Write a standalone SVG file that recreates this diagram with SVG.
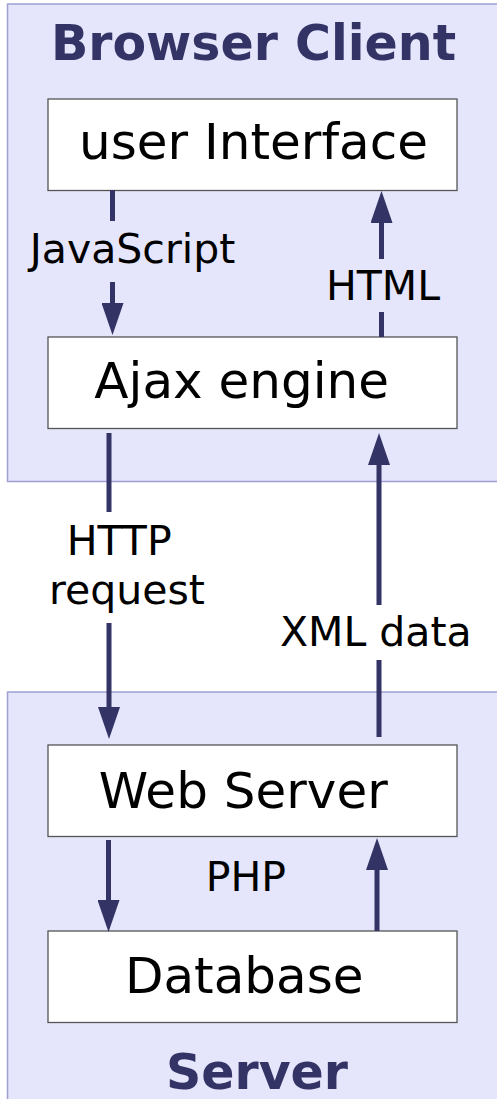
<svg xmlns="http://www.w3.org/2000/svg" width="497" height="1099" viewBox="0 0 497 1099">
<style>
.panel{fill:#e5e5fb;stroke:#a0a0d4;stroke-width:1.5}
.box{fill:#ffffff;stroke:#555555;stroke-width:1.3}
.title{font-family:"DejaVu Sans",sans-serif;font-weight:bold;font-size:49px;fill:#333366;text-anchor:middle}
.big{font-family:"DejaVu Sans",sans-serif;font-size:50px;fill:#000000;text-anchor:middle}
.lbl{font-family:"DejaVu Sans",sans-serif;font-size:41px;fill:#000000;text-anchor:middle}
.conn{stroke:#333366;stroke-width:5;fill:none}
</style>
<defs>
<marker id="ah" markerUnits="userSpaceOnUse" viewBox="0 -11 32 22" refX="0" refY="0" markerWidth="32" markerHeight="22" orient="auto">
<path d="M0,-11 L32,0 L0,11 z" fill="#333366"/>
</marker>
</defs>
<g id="browser-client">
<rect class="panel" x="7.5" y="4" width="500" height="477.5"/>
<text class="title" x="253.5" y="60">Browser Client</text>
</g>
<g id="server">
<rect class="panel" x="7.5" y="692" width="500" height="420"/>
<text class="title" x="257" y="1088.5">Server</text>
</g>
<g id="user-interface">
<rect class="box" x="48" y="99" width="409" height="91.5"/>
<text class="big" x="253.5" y="159">user Interface</text>
</g>
<g id="ajax-engine">
<rect class="box" x="48" y="337" width="409" height="91.5"/>
<text class="big" x="241.7" y="398">Ajax engine</text>
</g>
<g id="web-server">
<rect class="box" x="48" y="745" width="409" height="91.5"/>
<text class="big" x="243.3" y="807.5">Web Server</text>
</g>
<g id="database">
<rect class="box" x="48" y="931" width="409" height="91.5"/>
<text class="big" x="244.2" y="993">Database</text>
</g>
<g id="connectors">
<line class="conn" x1="112.5" y1="190" x2="112.5" y2="221"/>
<line class="conn" x1="112.5" y1="282" x2="112.5" y2="303" marker-end="url(#ah)"/>
<text class="lbl" x="132.5" y="263">JavaScript</text>
<line class="conn" x1="381.5" y1="337" x2="381.5" y2="312"/>
<line class="conn" x1="381.5" y1="259" x2="381.5" y2="223" marker-end="url(#ah)"/>
<text class="lbl" x="383" y="300">HTML</text>
<line class="conn" x1="109" y1="433" x2="109" y2="512"/>
<line class="conn" x1="109" y1="623" x2="109" y2="707" marker-end="url(#ah)"/>
<text class="lbl" x="119.2" y="555">HTTP</text>
<text class="lbl" x="127" y="604">request</text>
<line class="conn" x1="379" y1="737" x2="379" y2="660"/>
<line class="conn" x1="379" y1="605" x2="379" y2="465" marker-end="url(#ah)"/>
<text class="lbl" x="375.8" y="645.5">XML data</text>
<line class="conn" x1="108.5" y1="840" x2="108.5" y2="900" marker-end="url(#ah)"/>
<line class="conn" x1="377" y1="931" x2="377" y2="870" marker-end="url(#ah)"/>
<text class="lbl" x="245.8" y="891">PHP</text>
</g>
</svg>
